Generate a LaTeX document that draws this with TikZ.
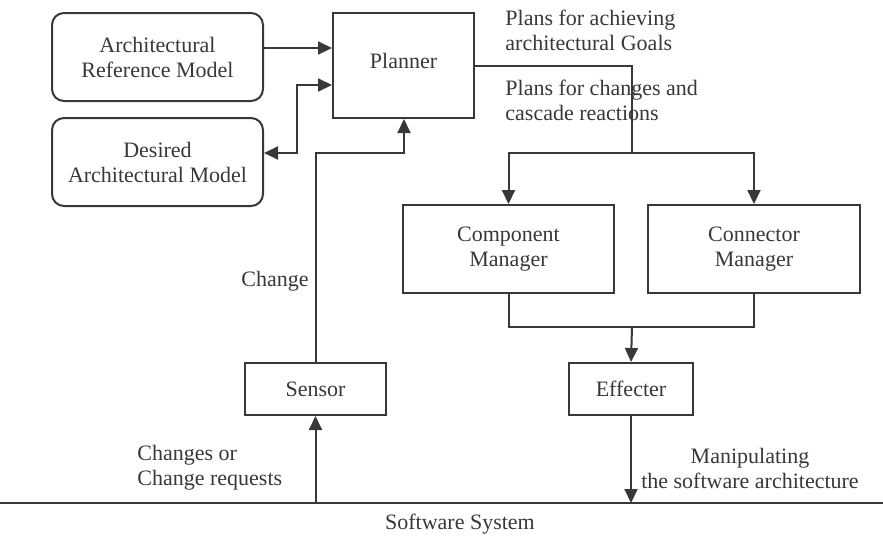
\documentclass[tikz,border=0pt]{standalone}
\usepackage{fontspec}
\setmainfont{Liberation Serif}
\usetikzlibrary{arrows.meta}
\definecolor{ink}{HTML}{383838}
\begin{document}
\begin{tikzpicture}[x=0.5pt,y=-0.5pt,
  every node/.style={font=\fontsize{11}{12.5}\selectfont, text=ink},
  line/.style={draw=ink, line width=1pt},
  arr/.style={line, -{Triangle[length=7pt,width=6.5pt]}},
  arrboth/.style={line, {Triangle[length=7pt,width=6.5pt]}-{Triangle[length=7pt,width=6.5pt]}},
  rbox/.style={draw=ink, line width=1pt, rounded corners=6pt, align=center, minimum width=105.5pt, minimum height=44pt, inner sep=0pt},
  sbox/.style={draw=ink, line width=1pt, align=center, inner sep=0pt},
  lbl/.style={align=left, inner sep=0pt}]
\useasboundingbox (0,0) rectangle (883,537);
% boxes
\node[rbox] (arm) at (157.5,57) {Architectural\\Reference Model};
\node[rbox] (dam) at (157.5,162) {Desired\\Architectural Model};
\node[sbox, minimum width=70.5pt, minimum height=52.5pt] (planner) at (403.5,65.5) {};
\node at (403.5,61) {Planner};
\node[sbox, minimum width=105.5pt, minimum height=44pt] (cm) at (508.5,249) {Component\\Manager};
\node[sbox, minimum width=106pt, minimum height=44pt] (conn) at (754,249) {Connector\\Manager};
\node[sbox, minimum width=62pt, minimum height=26pt] (eff) at (631,389) {Effecter};
\node[sbox, minimum width=70.5pt, minimum height=26pt] (sensor) at (315.5,389) {Sensor};
% coordinates
\coordinate (y48) at (0,48);
\coordinate (y85) at (0,85);
\coordinate (y66) at (0,66);
\coordinate (bend) at (297,153);
\coordinate (sj) at (404,153);
\coordinate (j1) at (632,153);
\coordinate (j2) at (632,327);
\coordinate (swL) at (0,503);
\coordinate (swR) at (883,503);
% connectors
\draw[arr] (arm.east |- y48) -- (planner.west |- y48);
\draw[arrboth] (planner.west |- y85) -| (bend) -- (dam.east |- bend);
\draw[arr] (sensor.north) |- (sj) -- (sj |- planner.south);
\draw[line] (planner.east |- y66) -| (j1);
\draw[arr] (j1) -| (cm.north);
\draw[arr] (j1) -| (conn.north);
\draw[line] (cm.south) |- (j2) -| (conn.south);
\draw[arr] (j2) -- (eff.north);
\draw[arr] (eff.south) -- (eff.south |- swL);
\draw[arr] (sensor.south |- swL) -- (sensor.south);
\draw[line] (swL) -- (swR);
% labels
\node[lbl, anchor=west] (l1) at (505,30) {Plans for achieving\\architectural Goals};
\node[lbl, anchor=west] (l2) at (505,100) {Plans for changes and\\cascade reactions};
\node[inner sep=0pt] (lc) at (275,281) {Change};
\node[lbl, anchor=west] (l3) at (137,468) {Changes or\\Change requests};
\node[align=center, inner sep=0pt] (l4) at (750,468) {Manipulating\\the software architecture};
\node[inner sep=0pt] (l5) at (460,524) {Software System};
\end{tikzpicture}
\end{document}
